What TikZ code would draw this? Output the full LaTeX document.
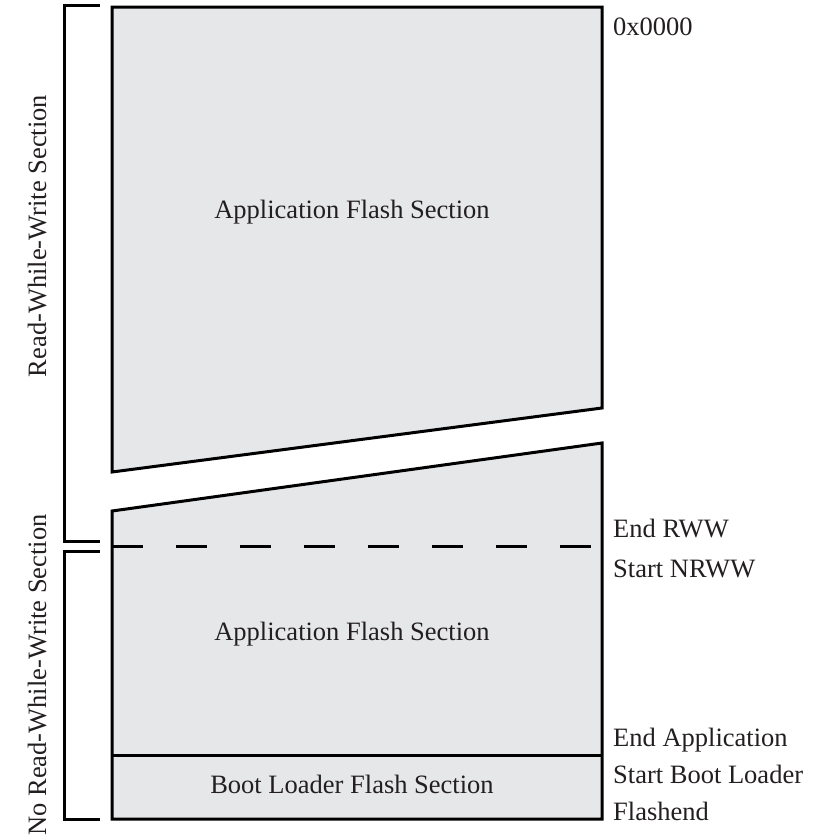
\documentclass[tikz,border=0pt]{standalone}
\usepackage{fontspec}
\setmainfont{Liberation Serif}
\definecolor{boxfill}{HTML}{E6E7E9}
\definecolor{ink}{HTML}{231F20}
\begin{document}
\begin{tikzpicture}[x=1pt,y=-1pt,
  frame/.style={draw=black,line width=3pt,fill=boxfill,line join=miter},
  brace/.style={draw=black,line width=3pt,line join=miter},
  lbl/.style={font=\fontsize{26.5}{30}\selectfont,text=ink,inner sep=0pt},
  addr/.style={lbl,anchor=base west}]
\useasboundingbox (0,0) rectangle (819,839);
% upper part of the flash
\coordinate (ta) at (112,7);
\coordinate (tb) at (602,7);
\coordinate (tc) at (602,408);
\coordinate (td) at (112,472);
\draw[frame] (ta) -- (tb) -- (tc) -- (td) -- cycle;
% lower part
\coordinate (ba) at (112,511);
\coordinate (bb) at (602,443);
\coordinate (bc) at (602,819);
\coordinate (bd) at (112,819);
\draw[frame] (ba) -- (bb) -- (bc) -- (bd) -- cycle;
% boundary between application and boot loader
\coordinate (sl) at (112,755);
\coordinate (sr) at (602,755);
\draw[black,line width=3pt] (sl) -- (sr);
% RWW / NRWW boundary
\coordinate (dl) at (112,546);
\coordinate (dr) at (600,546);
\draw[black,line width=3pt,dash pattern=on 31pt off 33pt] (dl) -- (dr);
% brackets
\draw[brace] (100,5) -- (64,5) -- (64,541) -- (100,541);
\draw[brace] (100,551) -- (64,551) -- (64,819) -- (100,819);
% section labels
\node[lbl,anchor=base] (app1) at (352,218) {Application Flash Section};
\node[lbl,anchor=base] (app2) at (352,640) {Application Flash Section};
\node[lbl,anchor=base] (boot) at (352,793) {Boot Loader Flash Section};
\node[lbl,rotate=90,anchor=base] (rww) at (46,236) {Read-While-Write Section};
\node[lbl,rotate=90,anchor=base] (nrww) at (46,675) {No Read-While-Write Section};
% addresses
\node[addr] (a0) at (613,35) {0x0000};
\node[addr] (a1) at (613,537) {End RWW};
\node[addr] (a2) at (613,577) {Start NRWW};
\node[addr] (a3) at (613,746) {End Application};
\node[addr] (a4) at (613,783) {Start Boot Loader};
\node[addr] (a5) at (613,820) {Flashend};
\end{tikzpicture}
\end{document}
